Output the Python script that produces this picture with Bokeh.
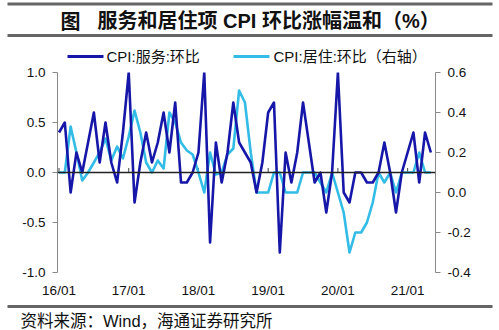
from bokeh.plotting import figure
from bokeh.layouts import column
from bokeh.models import (Range1d, LinearAxis, Span, Label, BoxAnnotation, FixedTicker,
                          NumeralTickFormatter, ColumnDataSource)
from bokeh.embed import file_html
from bokeh.resources import INLINE

# ---------------- data ----------------
months = list(range(65))  # 2016-01 .. 2021-05
services = [0.4, 0.5, -0.2, 0.2, 0.0, 0.3, 0.6, 0.1, 0.5, 0.1, -0.1, 0.4,
            1.0, -0.3, 0.1, 0.4, 0.1, 0.3, 0.6, 0.2, 0.7, -0.1, -0.1, 0.0,
            0.2, 1.0, -0.7, 0.3, -0.1, 0.2, 0.7, 0.3, 0.2, 0.1, -0.2, 0.1,
            0.6, 0.7, -0.8, 0.2, -0.1, 0.2, 0.7, 0.3, -0.1, 0.0, -0.4, 0.0,
            1.0, -0.2, -0.3, 0.0, 0.0, -0.1, -0.1, 0.0, 0.3, 0.0, -0.4, 0.0,
            0.2, 0.4, -0.1, 0.4, 0.2]
housing = [0.1, 0.1, 0.33, 0.2, 0.06, 0.1, 0.15, 0.2, 0.27, 0.16, 0.23, 0.17,
           0.28, 0.41, 0.3, 0.15, 0.1, 0.16, 0.12, 0.4, 0.35, 0.25, 0.21, 0.19,
           0.1, 0.0, 0.2, 0.09, 0.1, 0.19, 0.22, 0.51, 0.45, 0.2, 0.0, 0.0,
           0.0, 0.1, 0.1, 0.0, 0.0, 0.0, 0.1, 0.1, 0.1, 0.05, 0.0, 0.1,
           0.0, -0.1, -0.3, -0.2, -0.2, -0.15, -0.05, 0.1, 0.05, 0.1, 0.0, 0.1,
           0.1, 0.1, 0.2, 0.1, 0.1]
year_ticks = [0, 12, 24, 36, 48, 60]
year_labels = ["16/01", "17/01", "18/01", "19/01", "20/01", "21/01"]
left_ticks = [-1.0, -0.5, 0.0, 0.5, 1.0]
right_ticks = [-0.4, -0.2, 0.0, 0.2, 0.4, 0.6]

fig_label = "图"
title_main = "服务和居住项 CPI 环比涨幅温和（%）"
name_services = "CPI:服务:环比"
name_housing = "CPI:居住:环比（右轴）"
source_text = "资料来源：Wind，海通证券研究所"

DARK = "#1616A8"
LIGHT = "#33BCE6"
RULE = "#666666"
TXT = "#111111"
FONT = "'Liberation Sans', 'Noto Sans CJK SC'"
CJK = "'Noto Sans CJK SC'"

W, H = 499, 330
TOP_H, MAIN_H, BOT_H = 66, 232, 32


def Y(y):
    # page pixel row -> upward layout coordinate
    return H - y


def blank(height, y0):
    f = figure(width=W, height=height, output_backend="svg", toolbar_location=None,
               x_range=Range1d(0, W), y_range=Range1d(Y(y0 + height), Y(y0)),
               x_axis_type=None, y_axis_type=None, min_border=0, frame_align=False)
    f.outline_line_color = None
    f.grid.visible = False
    f.background_fill_color = "white"
    f.border_fill_color = "white"
    return f


def bar(f, x0, x1, y, thick, color):
    f.add_layout(BoxAnnotation(left=x0, right=x1, top=Y(y) + thick / 2, bottom=Y(y) - thick / 2,
                               fill_color=color, fill_alpha=1, line_color=None))


# ---------------- header: title + legend ----------------
top = blank(TOP_H, 0)
top.add_layout(Label(x=60, y=Y(20), text=fig_label, text_font=CJK, text_font_size="20px",
                     text_font_style="bold", text_baseline="middle", text_color=TXT))
top.add_layout(Label(x=97, y=Y(20), text=title_main, text_font=FONT, text_font_size="20px",
                     text_font_style="bold", text_baseline="middle", text_color=TXT))
bar(top, 67, 103, 56, 3, DARK)
top.add_layout(Label(x=106, y=Y(56), text=name_services, text_font=FONT, text_font_size="15px",
                     text_baseline="middle", text_color=TXT))
bar(top, 233, 269, 56, 3, LIGHT)
top.add_layout(Label(x=273, y=Y(56), text=name_housing, text_font=FONT, text_font_size="15px",
                     text_baseline="middle", text_color=TXT))
bar(top, 7, 492, 3.5, 3, RULE)
bar(top, 7, 492, 35, 3, RULE)

# ---------------- main chart ----------------
p = figure(width=W, height=MAIN_H, output_backend="svg", toolbar_location=None,
           x_range=Range1d(-0.26, 64.8), y_range=Range1d(-1.0, 1.0), frame_align=False,
           frame_width=378, frame_height=200,
           min_border_left=57, min_border_right=64, min_border_top=6, min_border_bottom=26)
p.extra_y_ranges = {"right": Range1d(-0.4, 0.6)}
p.outline_line_color = None
p.xgrid.visible = False
p.ygrid.visible = False
p.background_fill_color = "white"
p.border_fill_color = "white"

xa = p.xaxis[0]
xa.ticker = FixedTicker(ticks=year_ticks)
xa.major_label_overrides = {t: l for t, l in zip(year_ticks, year_labels)}
xa.axis_line_color = None
xa.major_tick_line_color = None
xa.major_tick_in = 0
xa.major_tick_out = 0
xa.minor_tick_line_color = None
xa.minor_tick_out = 0
xa.major_label_standoff = 10
xa.major_label_text_font = FONT
xa.major_label_text_font_size = "13.5px"
xa.major_label_text_color = TXT

ya = p.yaxis[0]
ya.ticker = FixedTicker(ticks=left_ticks)
ya.formatter = NumeralTickFormatter(format="0.0")
ya.axis_line_color = "#8a8a8a"
ya.major_tick_line_color = "#8a8a8a"
ya.major_tick_in = 0
ya.major_tick_out = 5
ya.minor_tick_line_color = None
ya.major_label_standoff = 7
ya.major_label_text_font = FONT
ya.major_label_text_font_size = "13.5px"
ya.major_label_text_color = TXT

ra = LinearAxis(y_range_name="right", ticker=FixedTicker(ticks=right_ticks),
                formatter=NumeralTickFormatter(format="0.0"))
ra.axis_line_color = "#8a8a8a"
ra.major_tick_line_color = "#8a8a8a"
ra.major_tick_in = 0
ra.major_tick_out = 5
ra.minor_tick_line_color = None
ra.major_label_standoff = 7
ra.major_label_text_font = FONT
ra.major_label_text_font_size = "13.5px"
ra.major_label_text_color = TXT
p.add_layout(ra, "right")

p.add_layout(Span(location=0, dimension="width", line_color="#222222", line_width=1.5))
p.segment(x0=year_ticks, x1=year_ticks, y0=[0] * len(year_ticks), y1=[0.045] * len(year_ticks),
          line_color="#444444", line_width=1)

src = ColumnDataSource(dict(m=months, s=services, h=housing))
p.line("m", "h", source=src, line_color=LIGHT, line_width=2.6, line_join="round",
       y_range_name="right")
p.line("m", "s", source=src, line_color=DARK, line_width=2.6, line_join="round")

# ---------------- footer: source ----------------
bot = blank(BOT_H, TOP_H + MAIN_H)
bot.add_layout(Label(x=20, y=Y(318), text=source_text, text_font=FONT, text_font_size="16.5px",
                     text_baseline="middle", text_color=TXT))
bar(bot, 7, 492, 304, 3, RULE)

layout = column(top, p, bot, spacing=0)
open("out.html", "w").write(file_html(layout, INLINE))
